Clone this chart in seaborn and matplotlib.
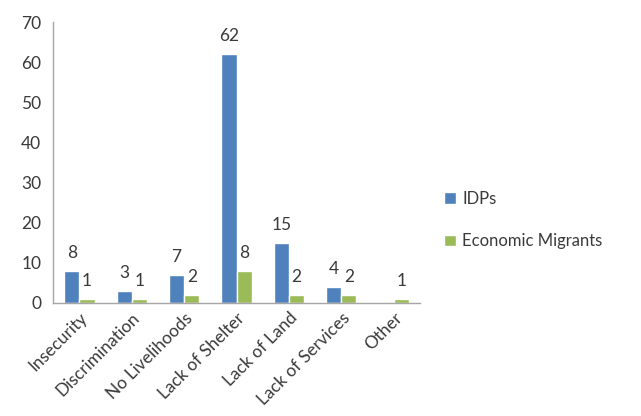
import matplotlib
matplotlib.use("Agg")
import matplotlib.pyplot as plt
import seaborn as sns
import pandas as pd
import numpy as np

categories = ["Insecurity", "Discrimination", "No Livelihoods", "Lack of Shelter",
              "Lack of Land", "Lack of Services", "Other"]
idps = [8, 3, 7, 62, 15, 4, 0]
migrants = [1, 1, 2, 8, 2, 2, 1]
series = ["IDPs", "Economic Migrants"]
colors = ["#4F81BD", "#9BBB59"]

df = pd.DataFrame({
    "category": categories * 2,
    "value": idps + migrants,
    "group": [series[0]] * len(categories) + [series[1]] * len(categories),
})

sns.set_style("white")
plt.rcParams["font.family"] = ["Lato", "DejaVu Sans"]
text_color = "#3A3A3A"

fig = plt.figure(figsize=(6.41, 4.16), dpi=100)
ax = fig.add_axes([0.083, 0.272, 0.572, 0.675])

sns.barplot(data=df, x="category", y="value", hue="group", palette=colors,
            width=0.58, saturation=1, ax=ax, legend=True)

for cont in ax.containers:
    labels = [f"{int(v)}" if v > 0 else "" for v in cont.datavalues]
    ax.bar_label(cont, labels=labels, padding=7, fontsize=12.5, color=text_color)

ax.set_ylim(0, 70)
ax.set_yticks(range(0, 71, 10))
ax.set_xlim(-0.5, len(categories) - 0.5)
ax.set_xlabel("")
ax.set_ylabel("")

for s in ["top", "right"]:
    ax.spines[s].set_visible(False)
for s in ["left", "bottom"]:
    ax.spines[s].set_color("#A6A6A6")
    ax.spines[s].set_linewidth(1)

ax.set_xticks(range(len(categories)))
ax.set_xticklabels(categories, rotation=45, ha="right", rotation_mode="anchor",
                   fontsize=12.5, color=text_color)
ax.tick_params(axis="x", which="major", length=0, pad=5)
ax.set_xticks(np.arange(-0.5, len(categories), 1), minor=True)
ax.tick_params(axis="x", which="minor", length=5, color="#A6A6A6", direction="out")
ax.tick_params(axis="y", length=5, color="#A6A6A6", direction="out",
               labelsize=12.5, labelcolor=text_color)

handles, labs = ax.get_legend_handles_labels()
ax.legend(handles, labs, loc="center left", bbox_to_anchor=(1.025, 0.295),
          frameon=False, fontsize=12, labelcolor=text_color,
          handlelength=0.7, handleheight=0.7, handletextpad=0.4, labelspacing=1.6)

fig.savefig("out.png", dpi=100)
